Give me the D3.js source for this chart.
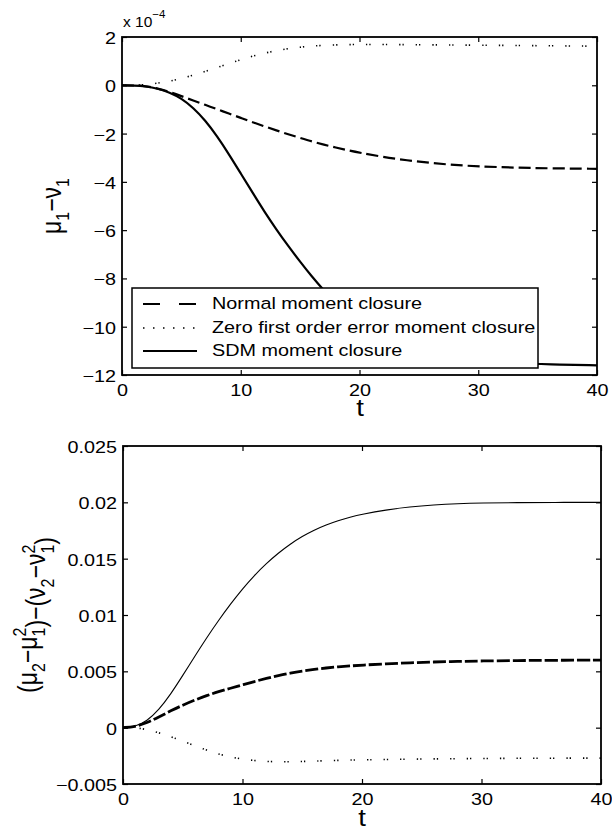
<!DOCTYPE html>
<html>
<head>
<meta charset="utf-8">
<script src="https://cdn.jsdelivr.net/npm/d3@7/dist/d3.min.js"></script>
<style>
  body { margin: 0; background: #fff; }
  text { font-family: "Liberation Sans", Arial, Helvetica, sans-serif; fill: #000; }
</style>
</head>
<body>
<svg id="fig" width="612" height="840"></svg>
<script>
// ---- data ----
const tTicks = [0, 10, 20, 30, 40];

// top panel: mu1 - nu1, in units of 1e-4
const topYTicks = [-12, -10, -8, -6, -4, -2, 0, 2];
const topYLabels = ["−12", "−10", "−8", "−6", "−4", "−2", "0", "2"];

const tZeroTop = [0, 1, 2, 3, 4, 5, 6, 7, 8, 9, 10, 11, 12, 13, 14, 15, 16, 18, 20, 22, 25, 30, 35, 40];
const zeroTop = [0, 0, 0.02, 0.09, 0.17, 0.28, 0.42, 0.57, 0.73, 0.9, 1.06, 1.21, 1.33, 1.44, 1.52, 1.58, 1.63, 1.68, 1.69, 1.69, 1.68, 1.66, 1.64, 1.62];

const tTop = [0, 1, 2, 3, 4, 5, 6, 7, 8, 9, 10, 11, 12, 13, 14, 15, 16, 17, 18, 19, 20, 22, 24, 26, 28, 30, 33, 36, 40];
const normalTop = [0, -0.005, -0.03, -0.13, -0.27, -0.45, -0.63, -0.81, -0.99, -1.17, -1.35, -1.53, -1.7, -1.87, -2.03, -2.18, -2.33, -2.46, -2.58, -2.69, -2.79, -2.97, -3.11, -3.22, -3.3, -3.36, -3.41, -3.44, -3.46];
const sdmTop = [0, -0.005, -0.04, -0.13, -0.29, -0.54, -0.93, -1.45, -2.1, -2.85, -3.65, -4.45, -5.24, -5.97, -6.66, -7.31, -7.93, -8.5, -9.02, -9.48, -9.88, -10.48, -10.88, -11.14, -11.31, -11.42, -11.51, -11.56, -11.6];

// bottom panel: (mu2 - mu1^2) - (nu2 - nu1^2)
const botYTicks = [-0.005, 0, 0.005, 0.01, 0.015, 0.02, 0.025];
const botYLabels = ["−0.005", "0", "0.005", "0.01", "0.015", "0.02", "0.025"];

const tBot = [0, 1, 2, 3, 4, 5, 6, 7, 8, 9, 10, 11, 12, 13, 14, 15, 16, 17, 18, 19, 20, 22, 24, 26, 28, 30, 33, 36, 40];
const sdmBot = [0, 0.00008, 0.00058, 0.00158, 0.00298, 0.00463, 0.00633, 0.00798, 0.00953, 0.01098, 0.01233, 0.01353, 0.01458, 0.0155, 0.0163, 0.01698, 0.01754, 0.018, 0.01838, 0.01869, 0.01894, 0.01933, 0.0196, 0.01977, 0.01988, 0.01994, 0.01998, 0.01999, 0.02];
const normalBot = [0, 0.00008, 0.00042, 0.00095, 0.0015, 0.002, 0.00245, 0.00285, 0.0032, 0.0035, 0.0038, 0.0041, 0.00437, 0.00462, 0.00484, 0.00502, 0.00517, 0.0053, 0.0054, 0.00548, 0.00555, 0.00567, 0.00576, 0.00583, 0.00588, 0.00592, 0.00596, 0.00598, 0.006];
const tZeroBot = [0, 1, 2, 3, 4, 5, 6, 7, 8, 9, 10, 11, 12, 13, 14, 15, 16, 18, 20, 25, 30, 35, 40];
const zeroBot = [0, 0, -0.00015, -0.00045, -0.0008, -0.0012, -0.0016, -0.002, -0.00235, -0.0026, -0.0028, -0.00292, -0.003, -0.00303, -0.00303, -0.003, -0.00297, -0.0029, -0.00285, -0.00278, -0.00273, -0.00271, -0.0027];

const legendNames = ["Normal moment closure", "Zero first order error moment closure", "SDM moment closure"];

// ---- drawing ----
const svg = d3.select("#fig");
const SX = 1.2;          // the reference is stretched sideways
const tickFont = 16.5;
const labelFont = 23;

function zip(ts, vs) { return ts.map((t, i) => ({ t: t, v: vs[i] })); }

function panel(box, yDomain, yTicks, yLabels) {
  const x = d3.scaleLinear().domain([0, 40]).range([box.x0, box.x1]);
  const y = d3.scaleLinear().domain(yDomain).range([box.y1, box.y0]);
  const g = svg.append("g");

  function styleAxis(sel) {
    sel.attr("font-family", null).attr("font-size", null);
    sel.select(".domain").remove();
    sel.selectAll(".tick line").attr("stroke", "#000").attr("stroke-width", 1.2);
  }

  // bottom axis with labels
  const ax = g.append("g").attr("transform", `translate(0,${box.y1})`)
    .call(d3.axisBottom(x).tickValues(tTicks).tickSizeInner(-5).tickSizeOuter(0).tickFormat(d3.format("d")));
  styleAxis(ax);
  ax.selectAll(".tick text").attr("y", null).attr("dy", null)
    .attr("transform", `translate(0,21) scale(${SX},1)`)
    .style("font-size", tickFont + "px");

  // top axis, ticks only
  const axT = g.append("g").attr("transform", `translate(0,${box.y0})`)
    .call(d3.axisTop(x).tickValues(tTicks).tickSizeInner(-5).tickSizeOuter(0).tickFormat(""));
  styleAxis(axT);

  // left axis with labels
  const ay = g.append("g").attr("transform", `translate(${box.x0},0)`)
    .call(d3.axisLeft(y).tickValues(yTicks).tickSizeInner(-5).tickSizeOuter(0)
      .tickFormat((d, i) => yLabels[i]));
  styleAxis(ay);
  ay.selectAll(".tick text").attr("x", null).attr("dy", null)
    .attr("text-anchor", "end")
    .attr("dominant-baseline", "central")
    .attr("transform", `translate(-6,1) scale(${SX},1)`)
    .style("font-size", tickFont + "px");

  // right axis, ticks only
  const ayR = g.append("g").attr("transform", `translate(${box.x1},0)`)
    .call(d3.axisRight(y).tickValues(yTicks).tickSizeInner(-5).tickSizeOuter(0).tickFormat(""));
  styleAxis(ayR);

  const plot = svg.append("g");
  svg.append("rect")
    .attr("x", box.x0).attr("y", box.y0)
    .attr("width", box.x1 - box.x0).attr("height", box.y1 - box.y0)
    .attr("fill", "none").attr("stroke", "#000").attr("stroke-width", 1.8);

  return { x: x, y: y, g: g, plot: plot };
}

function curve(p, data, width, dash) {
  const line = d3.line().x(d => p.x(d.t)).y(d => p.y(d.v)).curve(d3.curveBasis);
  p.plot.append("path")
    .attr("d", line(data))
    .attr("fill", "none")
    .attr("stroke", "#000")
    .attr("stroke-width", width)
    .attr("stroke-dasharray", dash)
    .attr("stroke-linejoin", "round");
}

function stretchedText(x, y, size, anchor, rotate) {
  return svg.append("text")
    .attr("transform", `translate(${x},${y}) scale(${SX},1)` + (rotate ? " rotate(-90)" : ""))
    .attr("text-anchor", anchor)
    .style("font-size", size + "px");
}

// ---- top panel ----
const topP = panel({ x0: 122, x1: 597, y0: 37, y1: 375 }, [-12, 2], topYTicks, topYLabels);
curve(topP, zip(tZeroTop, zeroTop), 1.6, "1.3,2,1.3,12");
curve(topP, zip(tTop, normalTop), 2.2, "12,5");
curve(topP, zip(tTop, sdmTop), 2.2, null);

// exponent label
const expo = svg.append("text").attr("x", 123).attr("y", 27).style("font-size", "15.5px");
expo.append("tspan").text("x 10");
expo.append("tspan").attr("dy", -9).style("font-size", "11.5px").text("−4");

// x label
stretchedText(360, 416, labelFont, "middle", false).text("t");

// y label
const yl1 = stretchedText(61, 206, labelFont, "middle", true);
yl1.append("tspan").text("μ");
yl1.append("tspan").attr("dy", 7).style("font-size", "16px").text("1");
yl1.append("tspan").attr("dy", -7).text("−ν");
yl1.append("tspan").attr("dy", 7).style("font-size", "16px").text("1");

// legend
const lg = svg.append("g");
lg.append("rect").attr("x", 132).attr("y", 288).attr("width", 406).attr("height", 80)
  .attr("fill", "#fff").attr("stroke", "#000").attr("stroke-width", 1.5);
const legendStyles = [
  { w: 2.2, dash: "17,19" },
  { w: 1.6, dash: "1.5,8.5" },
  { w: 2.2, dash: null }
];
const legendRows = [304, 328, 351];
legendNames.forEach((name, i) => {
  lg.append("line").attr("x1", 143).attr("x2", 197)
    .attr("y1", legendRows[i]).attr("y2", legendRows[i])
    .attr("stroke", "#000").attr("stroke-width", legendStyles[i].w)
    .attr("stroke-dasharray", legendStyles[i].dash);
  stretchedText(212, legendRows[i], tickFont, "start", false)
    .attr("dominant-baseline", "central").text(name);
});

// ---- bottom panel ----
const botP = panel({ x0: 123, x1: 601, y0: 446, y1: 784 }, [-0.005, 0.025], botYTicks, botYLabels);
curve(botP, zip(tBot, sdmBot), 1.1, null);
curve(botP, zip(tBot, normalBot), 2.8, "13,3");
curve(botP, zip(tZeroBot, zeroBot), 1.6, "1.3,2,1.3,12");

stretchedText(362, 826, labelFont, "middle", false).text("t");

const yl2 = stretchedText(37, 615, labelFont, "middle", true);
function subSup(t, sub, sup) {
  t.append("tspan").attr("dy", -9).style("font-size", "16px").text(sup);
  t.append("tspan").attr("dx", -8.9).attr("dy", 16).style("font-size", "16px").text(sub);
  t.append("tspan").attr("dy", -7).text("");
}
yl2.append("tspan").text("(μ");
yl2.append("tspan").attr("dy", 7).style("font-size", "16px").text("2");
yl2.append("tspan").attr("dy", -7).text("−μ");
subSup(yl2, "1", "2");
yl2.append("tspan").text(")−(ν");
yl2.append("tspan").attr("dy", 7).style("font-size", "16px").text("2");
yl2.append("tspan").attr("dy", -7).text("−ν");
subSup(yl2, "1", "2");
yl2.append("tspan").text(")");
</script>
</body>
</html>
